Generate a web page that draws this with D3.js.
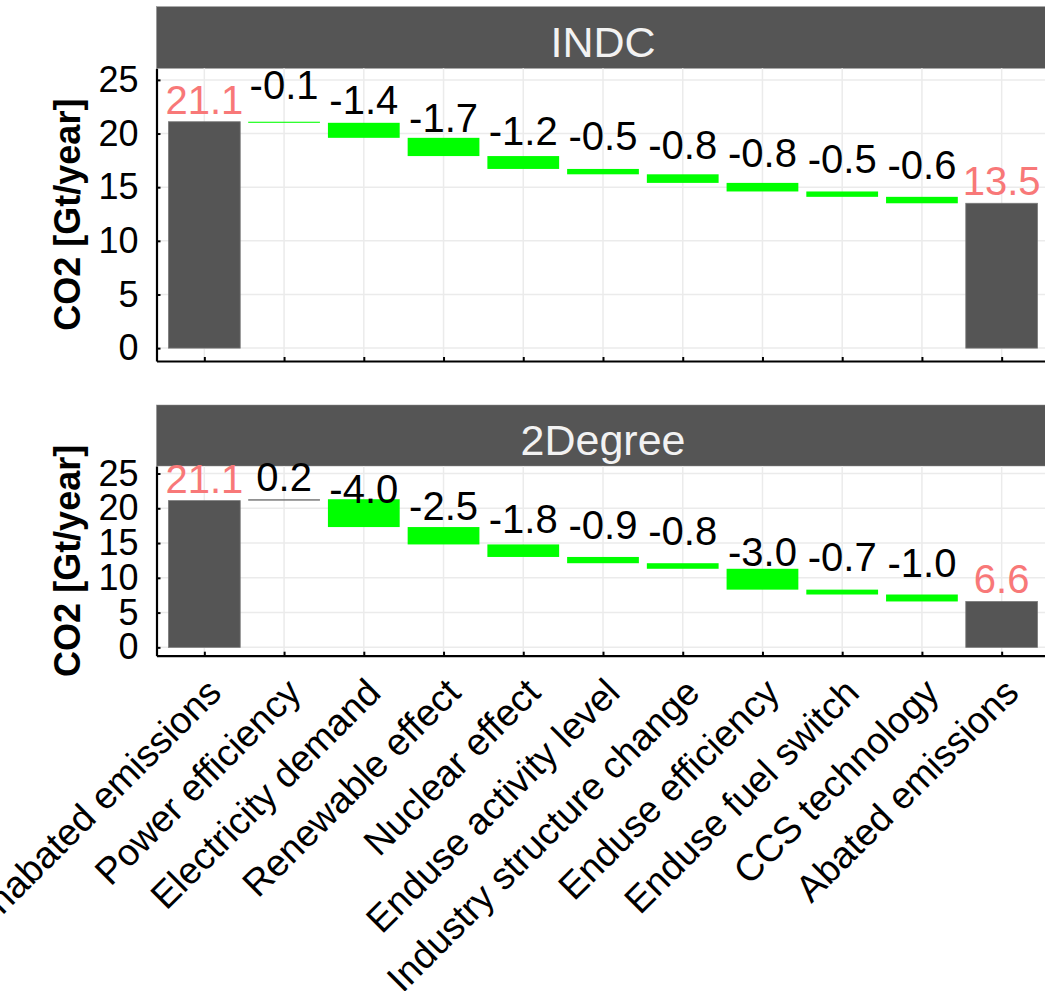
<!DOCTYPE html>
<html>
<head>
    <meta charset="utf-8">
    <title>CO2 waterfall</title>
    <script src="https://cdn.jsdelivr.net/npm/d3@7/dist/d3.min.js"></script>
    <style>
        body { margin: 0; background: #fff; }
        #drawingPlace text { font-family: "Liberation Sans", Arial, sans-serif; }
    </style>
</head>
<body>
<svg id="drawingPlace" width="1045" height="991"></svg>
<script>
    // categories along the x axis
    var categories = ["Unabated emissions", "Power efficiency", "Electricity demand",
        "Renewable effect", "Nuclear effect", "Enduse activity level",
        "Industry structure change", "Enduse efficiency", "Enduse fuel switch",
        "CCS technology", "Abated emissions"];

    // first and last are totals, the rest are changes
    var indcValues = [21.1, -0.1, -1.4, -1.7, -1.2, -0.5, -0.8, -0.8, -0.5, -0.6, 13.5];
    var twoDegreeValues = [21.1, 0.2, -4.0, -2.5, -1.8, -0.9, -0.8, -3.0, -0.7, -1.0, 6.6];

    var panelNames = ["INDC", "2Degree"];
    var yTicks = [0, 5, 10, 15, 20, 25];

    window.addEventListener("load", drawDiagram);

    function drawDiagram() {
        var svg = d3.select("#drawingPlace");

        var left = 156.5, right = 1049.5;
        // top/bottom of strip and panel for each facet
        var panels = [
            {name: panelNames[0], values: indcValues, stripTop: 6.7, top: 68.3, bottom: 361},
            {name: panelNames[1], values: twoDegreeValues, stripTop: 405, top: 466, bottom: 655.7}
        ];

        var x = d3.scalePoint()
            .domain(categories)
            .range([left, right])
            .padding(0.6);
        var barW = x.step() * 0.9;

        panels.forEach(function (p, pi) {
            var y = d3.scaleLinear()
                .domain([-1.2, 26.08])
                .range([p.bottom, p.top]);

            // waterfall steps
            var run = 0;
            var rows = p.values.map(function (v, i) {
                var total = (i == 0 || i == p.values.length - 1);
                var start, end;
                if (total) { start = 0; end = v; run = v; }
                else { start = run; end = run + v; run = end; }
                return {cat: categories[i], v: v, start: start, end: end, total: total};
            });

            var g = svg.append("g");

            // strip
            g.append("rect")
                .attr("x", left).attr("y", p.stripTop)
                .attr("width", right - left).attr("height", p.top - p.stripTop)
                .attr("fill", "#555555")
                .attr("stroke", "#8a8a8a").attr("stroke-width", 0.5);
            g.append("text")
                .attr("x", (left + right) / 2)
                .attr("y", (p.stripTop + p.top) / 2 + 19)
                .attr("text-anchor", "middle")
                .attr("font-size", "43px")
                .attr("fill", "#f2f2f2")
                .text(p.name);

            // grid
            g.selectAll(".hgrid")
                .data(yTicks)
                .enter()
                .append("line")
                .attr("x1", left).attr("x2", right)
                .attr("y1", d => y(d)).attr("y2", d => y(d))
                .attr("stroke", "#ebebeb").attr("stroke-width", 1.5);
            g.selectAll(".vgrid")
                .data(categories)
                .enter()
                .append("line")
                .attr("x1", d => x(d)).attr("x2", d => x(d))
                .attr("y1", p.top).attr("y2", p.bottom)
                .attr("stroke", "#ebebeb").attr("stroke-width", 1.5);

            // bars
            g.selectAll(".bar")
                .data(rows)
                .enter()
                .append("rect")
                .attr("x", d => x(d.cat) - barW / 2)
                .attr("width", barW)
                .attr("y", d => y(Math.max(d.start, d.end)))
                .attr("height", d => Math.abs(y(d.start) - y(d.end)))
                .attr("fill", d => d.total ? "#555555" : (d.v < 0 ? "#00ff00" : "#707070"))
                .attr("stroke", d => d.total ? "#7a7a7a" : "none")
                .attr("stroke-width", 0.8);

            // value labels
            g.selectAll(".val")
                .data(rows)
                .enter()
                .append("text")
                .attr("x", d => x(d.cat))
                .attr("y", d => (d.v < 0 && !d.total) ? y(d.end) - 24 : y(Math.max(d.start, d.end)) - 8)
                .attr("text-anchor", "middle")
                .attr("font-size", "40px")
                .attr("fill", d => d.total ? "#f87878" : "#000")
                .text(d => d.v.toFixed(1));

            // y axis
            var yAxis = d3.axisLeft(y)
                .tickValues(yTicks)
                .tickSize(-4)
                .tickSizeOuter(0)
                .tickPadding(18);
            var ya = g.append("g")
                .attr("transform", "translate(" + left + ",0)")
                .call(yAxis);
            ya.select(".domain").attr("stroke", "#000").attr("stroke-width", 2.2);
            ya.selectAll(".tick line").attr("stroke", "#000").attr("stroke-width", 2);
            ya.selectAll(".tick text")
                .attr("font-size", "36px")
                .attr("fill", "#000");

            // x axis
            var xAxis = d3.axisBottom(x)
                .tickSize(-4)
                .tickSizeOuter(0)
                .tickFormat("");
            var xa = g.append("g")
                .attr("transform", "translate(0," + p.bottom + ")")
                .call(xAxis);
            xa.select(".domain").attr("stroke", "#000").attr("stroke-width", 2.2);
            xa.selectAll(".tick line").attr("stroke", "#000").attr("stroke-width", 2);

            // y title
            g.append("text")
                .attr("transform", "translate(80," + ((p.top + p.bottom) / 2) + ") rotate(-90)")
                .attr("text-anchor", "middle")
                .attr("font-size", "36px")
                .attr("font-weight", "bold")
                .attr("fill", "#000")
                .text("CO2 [Gt/year]");

            // category labels only under the last panel
            if (pi == panels.length - 1) {
                g.selectAll(".xlab")
                    .data(categories)
                    .enter()
                    .append("text")
                    .attr("transform", d => "translate(" + (x(d) + 19) + "," + (p.bottom + 39) + ") rotate(-45)")
                    .attr("text-anchor", "end")
                    .attr("font-size", "37.5px")
                    .attr("fill", "#000")
                    .text(d => d);
            }
        });
    }
</script>
</body>
</html>
